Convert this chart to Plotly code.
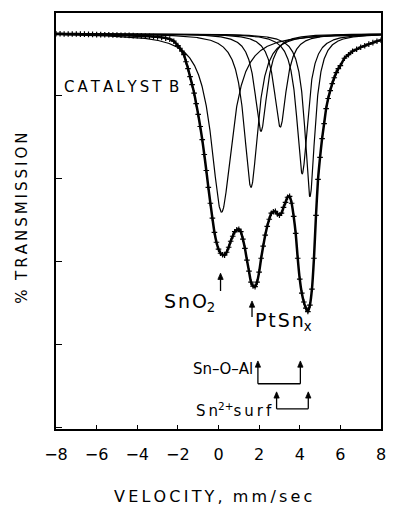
import numpy as np
import plotly.graph_objects as go

# ---- measured spectrum: velocity (mm/s) and % transmission ----
velocity = (
    [-8.0, -7.8, -7.6, -7.4, -7.2, -7.0, -6.8, -6.6, -6.4, -6.2, -6.0, -5.8, -5.6, -5.4, -5.2,
     -5.0, -4.8, -4.6, -4.4, -4.2, -4.0, -3.8, -3.6, -3.4, -3.2, -3.0, -2.8, -2.6, -2.4, -2.2]
    + [round(-2.0 + 0.1 * i, 1) for i in range(81)]
    + [6.2, 6.4, 6.6, 6.8, 7.0, 7.2, 7.4, 7.6, 7.8, 8.0]
)
transmission = [
    100.00, 100.00, 99.99, 99.99, 99.99, 99.99, 99.98, 99.98, 99.97, 99.97, 99.96, 99.96, 99.95, 99.95, 99.94,
    99.94, 99.93, 99.93, 99.92, 99.91, 99.90, 99.89, 99.88, 99.88, 99.86, 99.85, 99.82, 99.79, 99.74, 99.64,
    # -2.0 ... 6.0 in 0.1 steps
    99.43, 99.30, 99.16, 98.99, 98.65, 98.32, 97.93, 97.55, 97.14, 96.63,
    96.11, 95.53, 94.90, 94.18, 93.41, 92.60, 91.83, 91.11, 90.43, 89.95,
    89.62, 89.42, 89.35, 89.33, 89.47, 89.71, 90.00, 90.24, 90.46, 90.55,
    90.58, 90.46, 90.10, 89.66, 89.09, 88.56, 88.03, 87.84, 87.81, 88.03,
    88.51, 89.18, 89.76, 90.29, 90.72, 91.06, 91.35, 91.42, 91.44, 91.32,
    91.25, 91.35, 91.63, 91.87, 92.12, 92.16, 91.83, 91.20, 90.38, 89.18,
    88.17, 87.50, 87.07, 86.78, 86.61, 86.92, 87.69, 89.18, 91.25, 92.98,
    94.04, 94.95, 95.67, 96.39, 96.88, 97.26, 97.60, 97.88, 98.13, 98.32,
    98.46,
    98.82, 98.99, 99.16, 99.25, 99.35, 99.42, 99.50, 99.57, 99.64, 99.69,
]

# ---- fitted Lorentzian components: centre (mm/s), depth (%), half width (mm/s) ----
comp_names = ["SnO2", "PtSnx", "Sn-O-Al (1)", "Sn2+ surf (1)", "Sn-O-Al (2)", "Sn2+ surf (2)"]
comp_center = [0.15, 1.60, 2.09, 3.04, 4.12, 4.50]
comp_depth = [8.60, 7.40, 4.70, 4.50, 6.75, 7.85]
comp_hwhm = [0.62, 0.42, 0.36, 0.36, 0.33, 0.30]

# ---- site markers (velocity, mm/s) ----
sno2_pos = 0.10
ptsn_pos = 1.65
snoal_pos = [1.94, 4.03]
sn2_pos = [2.86, 4.42]

baseline = 100.0
x_ticks = [-8, -6, -4, -2, 0, 2, 4, 6, 8]
y_ticks = [81, 85, 89, 93, 97, 101]

FONT = "DejaVu Sans"
THIN = "\u2009"
HAIR = "\u200a"


def spaced(s, sep=THIN):
    return sep.join(s)


fig = go.Figure()

v = np.linspace(-8, 8, 1601)
for c, d, g in zip(comp_center, comp_depth, comp_hwhm):
    fig.add_trace(go.Scatter(
        x=v, y=baseline - d / (1 + ((v - c) / g) ** 2),
        mode="lines", line=dict(color="black", width=1.2), hoverinfo="skip",
    ))

fig.add_trace(go.Scatter(
    x=velocity, y=transmission, mode="lines+markers",
    line=dict(color="black", width=2.5, shape="spline", smoothing=0.6),
    marker=dict(symbol="cross-thin", size=4, line=dict(color="black", width=1.2)),
))

# arrows drawn as a stem plus a small filled head (data coordinates)
HEAD_DX, HEAD_DY = 0.13, 0.30


def up_arrow(x, y_tip, y_tail):
    fig.add_shape(type="line", x0=x, x1=x, y0=y_tail, y1=y_tip - HEAD_DY * 0.5,
                  xref="x", yref="y", line=dict(color="black", width=1.3))
    fig.add_shape(type="path", xref="x", yref="y",
                  path=f"M {x - HEAD_DX},{y_tip - HEAD_DY} L {x},{y_tip} L {x + HEAD_DX},{y_tip - HEAD_DY} Z",
                  fillcolor="black", line=dict(color="black", width=0.8))


up_arrow(sno2_pos, 88.46, 87.60)
up_arrow(ptsn_pos, 87.12, 86.35)

# doublet brackets
for (c1, c2), y_tip, y_bot in [(snoal_pos, 84.23, 83.13), (sn2_pos, 82.74, 81.92)]:
    up_arrow(c1, y_tip, y_bot)
    up_arrow(c2, y_tip, y_bot)
    fig.add_shape(type="line", x0=c1, x1=c2, y0=y_bot, y1=y_bot, xref="x", yref="y",
                  line=dict(color="black", width=1.3))

lab = dict(showarrow=False, font=dict(family=FONT, size=19, color="black"))
fig.add_annotation(x=sno2_pos - 0.17, y=87.05, xref="x", yref="y", xanchor="right",
                   yanchor="middle", text=spaced("SnO", HAIR) + "<sub>2</sub>", **lab)
fig.add_annotation(x=ptsn_pos + 0.05, y=86.15, xref="x", yref="y", xanchor="left",
                   yanchor="middle", text=spaced("PtSn", HAIR) + "<sub>x</sub>", **lab)
lab2 = dict(showarrow=False, font=dict(family=FONT, size=15, color="black"))
fig.add_annotation(x=snoal_pos[0] - 0.12, y=83.83, xref="x", yref="y", xanchor="right",
                   yanchor="middle", text="Sn\u2013O\u2013Al", **lab2)
fig.add_annotation(x=sn2_pos[0] - 0.12, y=81.85, xref="x", yref="y", xanchor="right",
                   yanchor="middle", text=spaced("Sn") + "<sup>2+</sup>" + spaced("surf"), **lab2)
fig.add_annotation(x=-7.7, y=97.45, xref="x", yref="y", xanchor="left", yanchor="middle",
                   text=spaced("CATALYST") + THIN + " " + "B", showarrow=False,
                   font=dict(family=FONT, size=15, color="black"))

# axis titles
fig.add_annotation(x=(215 - 56) / 330, y=(429 - 508) / 416, xref="paper", yref="paper",
                   text=spaced("VELOCITY,") + "  " + spaced("mm/sec"), showarrow=False,
                   font=dict(family=FONT, size=16, color="black"))
fig.add_annotation(x=(10 - 56) / 330, y=(429 - 218) / 416, xref="paper", yref="paper",
                   text="%  " + spaced("TRANSMISSION"), textangle=-90, showarrow=False,
                   font=dict(family=FONT, size=15, color="black"))

fig.update_xaxes(range=[-8, 8], tickvals=x_ticks, ticktext=[f"{t:d}".replace("-", "\u2212") for t in x_ticks],
                 ticks="inside", ticklen=4, tickwidth=1.3, tickcolor="black",
                 showline=True, linewidth=1.6, linecolor="black", mirror=True,
                 showgrid=False, zeroline=False, ticklabelstandoff=10,
                 tickfont=dict(family=FONT, size=16, color="black"))
fig.update_yaxes(range=[80.95, 101.0], tickvals=y_ticks, showticklabels=False,
                 ticks="inside", ticklen=6, tickwidth=1.3, tickcolor="black",
                 showline=True, linewidth=1.6, linecolor="black", mirror=True,
                 showgrid=False, zeroline=False)

fig.update_layout(width=394, height=516, margin=dict(l=56, r=8, t=13, b=87),
                  paper_bgcolor="white", plot_bgcolor="white", showlegend=False,
                  font=dict(family=FONT, color="black"))

fig.write_html("out.html")
